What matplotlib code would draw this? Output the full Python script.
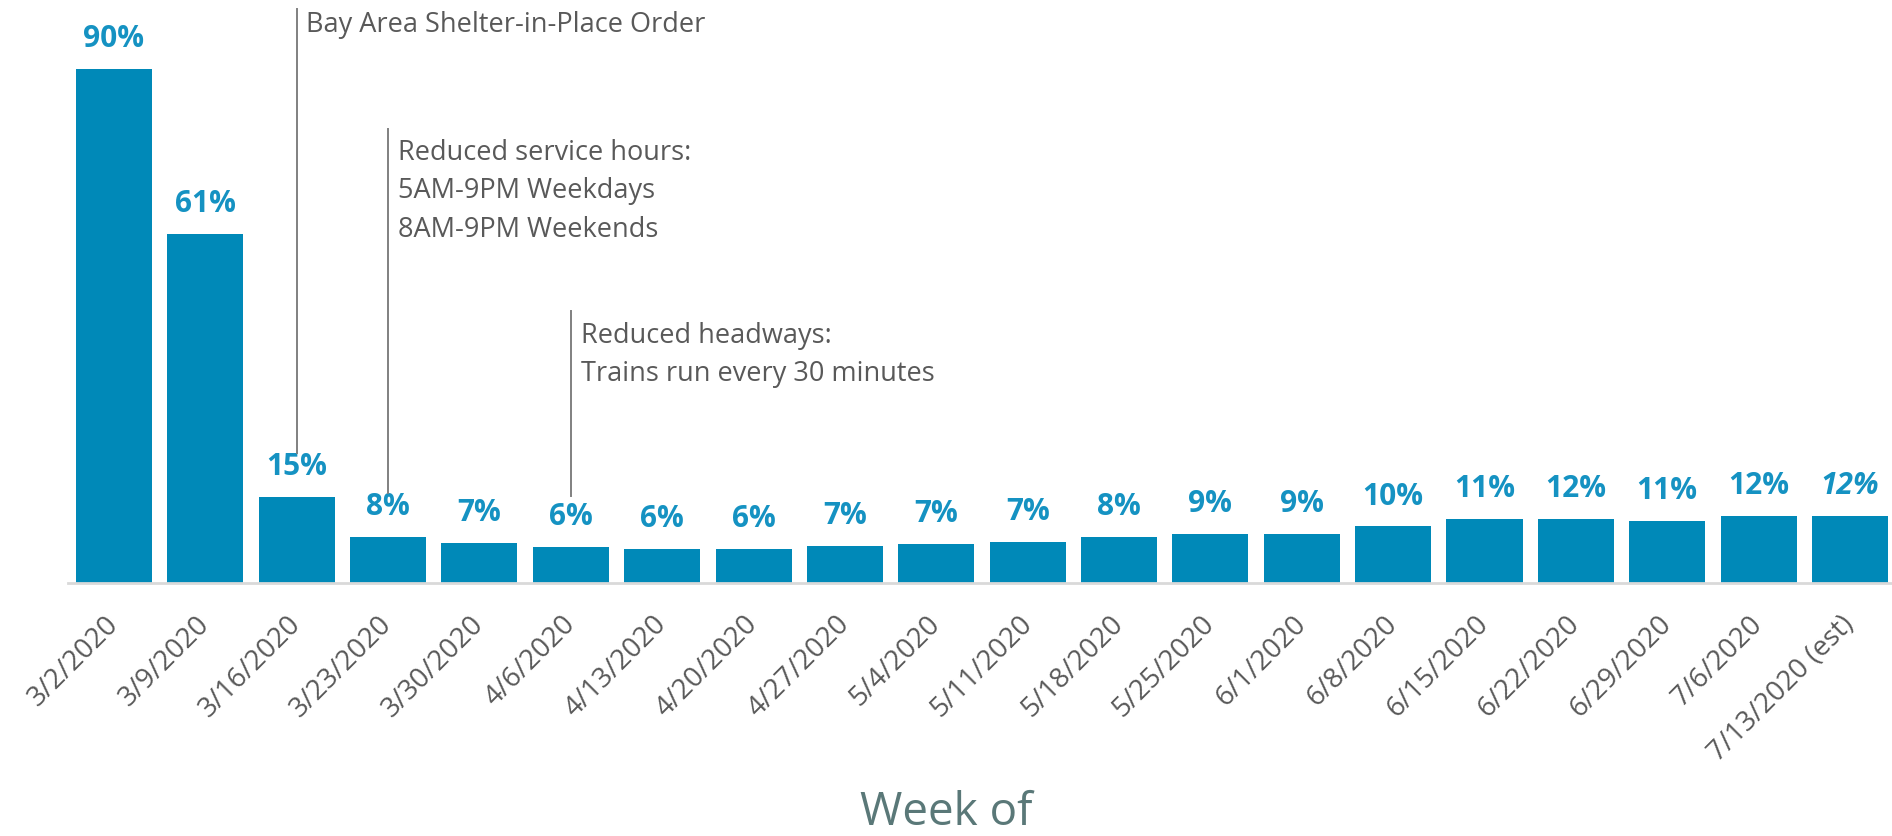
import matplotlib
matplotlib.use("Agg")
import matplotlib.pyplot as plt
import numpy as np

weeks = ["3/2/2020", "3/9/2020", "3/16/2020", "3/23/2020", "3/30/2020",
         "4/6/2020", "4/13/2020", "4/20/2020", "4/27/2020", "5/4/2020",
         "5/11/2020", "5/18/2020", "5/25/2020", "6/1/2020", "6/8/2020",
         "6/15/2020", "6/22/2020", "6/29/2020", "7/6/2020", "7/13/2020 (est)"]
ridership = [90, 61, 15, 8.0, 7.0, 6.3, 6.0, 6.0, 6.5, 6.9,
             7.2, 8.0, 8.6, 8.6, 9.9, 11.2, 11.2, 10.9, 11.8, 11.8]
labels = ["90%", "61%", "15%", "8%", "7%", "6%", "6%", "6%", "7%", "7%",
          "7%", "8%", "9%", "9%", "10%", "11%", "12%", "11%", "12%", "12%"]

# events: bar index, line top, line bottom, text
event_idx = [2, 3, 5]
event_top = [100.5, 79.4, 47.6]
event_bottom = [22.7, 15.8, 15.2]
event_text_y = [97.7, 68.5, 39.9]
event_text = ["Bay Area Shelter-in-Place Order",
              "Reduced service hours:\n5AM-9PM Weekdays\n8AM-9PM Weekends",
              "Reduced headways:\nTrains run every 30 minutes"]

bar_color = "#0089b8"
label_color = "#1592c2"
gray = "#595959"

plt.rcParams['font.family'] = ['Open Sans', 'DejaVu Sans']

fig = plt.figure(figsize=(18.92, 8.36), dpi=100)
ax = fig.add_axes([68 / 1892, 253 / 836, 1 - 68 / 1892, 583 / 836])

x = np.arange(len(weeks))
ax.bar(x, ridership, width=0.832, color=bar_color, zorder=2)

for i, (v, lab) in enumerate(zip(ridership, labels)):
    style = 'italic' if i == len(weeks) - 1 else 'normal'
    ax.annotate(lab, xy=(i, v), xytext=(0, 21.5), textcoords='offset points',
                ha='center', va='center', fontsize=21.5, fontweight='bold',
                fontstyle=style, color=label_color)

for i, top, bot, ty, txt in zip(event_idx, event_top, event_bottom,
                                 event_text_y, event_text):
    ax.plot([i, i], [bot, top], color="#808080", lw=1.4, zorder=3,
            clip_on=False)
    ax.annotate(txt, xy=(i, ty), xytext=(7, 0), textcoords='offset points',
                ha='left', va='center', fontsize=19.5, color=gray,
                linespacing=1.5)

ax.set_xlim(-0.503, 19.46)
ax.set_ylim(0, 102)
ax.set_xticks(x)
ax.set_xticklabels(weeks, rotation=45, ha='right', va='center',
                   rotation_mode='anchor', fontsize=20, color=gray)
ax.tick_params(axis='x', length=0, pad=27)
ax.set_yticks([])
for s in ['top', 'right', 'left']:
    ax.spines[s].set_visible(False)
ax.spines['bottom'].set_color("#d9d9d9")
ax.spines['bottom'].set_linewidth(2)

fig.text(0.5, 11 / 836, "Week of", ha='center', va='baseline',
         fontsize=33, color="#5a7878")

fig.savefig("out.png", dpi=100)
